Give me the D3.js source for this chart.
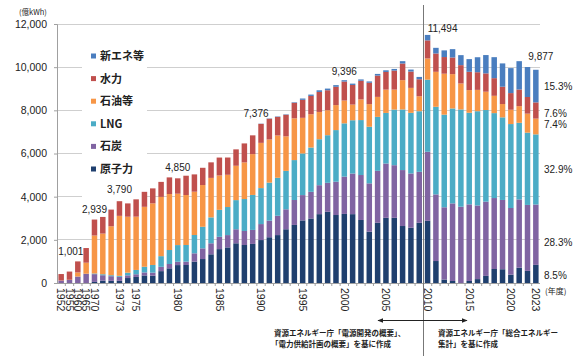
<!DOCTYPE html>
<html><head><meta charset="utf-8">
<script src="https://cdn.jsdelivr.net/npm/d3@7"></script>
<style>
body{margin:0;background:#fff;}
svg{display:block;}
text{font-family:"Liberation Sans",Arial,"Noto Sans CJK JP",sans-serif;fill:#222;}
.jp{font-family:"Noto Sans CJK JP","Liberation Sans",sans-serif;}
</style>
</head><body>
<svg id="c" width="574" height="360"></svg>
<script>
// ---- data (億kWh) ----
const years = [1952,1955,1960,1965,
  1970,1971,1972,1973,1974,1975,1976,1977,1978,1979,
  1980,1981,1982,1983,1984,1985,1986,1987,1988,1989,
  1990,1991,1992,1993,1994,1995,1996,1997,1998,1999,
  2000,2001,2002,2003,2004,2005,2006,2007,2008,2009,
  2010,2011,2012,2013,2014,2015,2016,2017,2018,2019,
  2020,2021,2022,2023];
const nuclear = [0,0,0,0,
  50,110,100,100,230,280,350,340,550,680,
  830,834,990,1110,1330,1570,1650,1840,1760,1810,
  1990,2120,2220,2490,2690,2900,2990,3190,3300,3150,
  3200,3190,2920,2380,2790,3020,3020,2640,2560,2790,
  2882,1018,159,93,0,94,181,329,649,638,
  388,708,561,840];
const coal = [110,140,300,430,
  360,250,215,185,125,125,140,140,200,200,
  155,155,385,495,510,570,570,650,650,650,
  740,770,895,925,1155,1173,1234,1342,1342,1543,
  1728,1882,2083,2237,2407,2515,2438,2592,2515,2361,
  3199,3087,3349,3596,3534,3550,3411,3441,3287,3210,
  3087,3164,3056,2796];
const lng = [0,0,0,0,
  30,46,46,46,123,200,262,355,494,648,
  772,772,849,1000,1200,1250,1300,1350,1480,1620,
  1667,1760,1760,1780,1850,1929,2052,2129,2206,2392,
  2469,2469,2546,2623,2500,2345,2577,2808,2808,2808,
  3339,4059,4291,4398,4507,4244,4368,4244,3935,3827,
  3889,3550,3349,3250];
const oil = [5,10,190,510,
  1760,1883,2268,2780,2593,2469,2778,2855,2747,2593,
  2380,2315,2006,1933,1830,1592,1494,1592,1697,1891,
  2096,2000,1961,1599,1934,1651,1543,1265,1157,1157,
  1057,725,957,1049,926,1080,926,1358,1157,694,
  983,1621,1898,1590,1204,1049,988,849,802,617,
  663,772,880,731];
const hydro = [300,380,511,680,
  740,772,772,679,617,802,694,694,694,772,
  713,895,802,800,720,830,800,760,880,870,
  880,960,860,1000,720,833,849,926,926,849,
  880,910,864,987,987,818,880,772,756,787,
  838,849,772,772,849,849,818,849,818,802,
  772,772,772,751];
const newEnergy = [0,0,0,0,
  0,0,0,0,0,0,0,0,0,0,
  0,0,0,0,0,0,0,0,0,0,
  10,15,20,20,25,62,62,77,77,77,
  62,62,62,62,77,77,77,108,93,108,
  253,262,309,386,463,587,694,849,972,1080,
  1157,1312,1389,1511];

const seriesNames = ["原子力","石炭","LNG","石油等","水力","新エネ等"];
const seriesColors = ["#1F3F6E","#8064A2","#4BACC6","#F79646","#C0504D","#4A7EBF"];
const yTicks = [0,2000,4000,6000,8000,10000,12000];
const xTickLabels = [1952,1955,1960,1965,1970,1973,1975,1980,1985,1990,1995,2000,2005,2010,2015,2020,2023];
const totalLabelYears = [1960,1970,1973,1980,1990,2000,2010,2023];
const totalLabelTexts = ["1,001","2,939","3,790","4,850","7,376","9,396","11,494","9,877"];
const shareLabels2023 = ["8.5%","28.3%","32.9%","7.4%","7.6%","15.3%"];

// ---- layout ----
const svg = d3.select("#c");
const L = 57, R = 540, T = 24, B = 283;
const x = d3.scaleBand().domain(years.map(String)).range([L,R]).paddingInner(0.34).paddingOuter(0.17);
const y = d3.scaleLinear().domain([0,12000]).range([B,T]);

const table = years.map((yr,i)=>({year:String(yr),
  "原子力":nuclear[i],"石炭":coal[i],"LNG":lng[i],"石油等":oil[i],"水力":hydro[i],"新エネ等":newEnergy[i]}));
const stacked = d3.stack().keys(seriesNames)(table);

// gridlines
svg.append("g").selectAll("line").data(yTicks.filter(d=>d>0)).join("line")
  .attr("x1",L).attr("x2",R).attr("y1",d=>y(d)).attr("y2",d=>y(d))
  .attr("stroke","#cfcfcf").attr("stroke-width",1).attr("shape-rendering","crispEdges");

// y axis labels
const yAxis = d3.axisLeft(y).tickValues(yTicks).tickFormat(d3.format(",")).tickSize(3).tickPadding(7);
const ya = svg.append("g").attr("transform",`translate(${L},0)`).call(yAxis);
ya.select(".domain").attr("stroke","#a0a0a0");
ya.selectAll(".tick line").attr("stroke","#a0a0a0");
ya.selectAll("text").attr("font-size",10.5).attr("fill","#222")
  .attr("font-family","'Liberation Sans',Arial,sans-serif");
svg.append("text").attr("class","jp").attr("x",19).attr("y",15).attr("font-size",7.5).text("(億kWh)");

// legend background
svg.append("rect").attr("x",82).attr("y",36).attr("width",65).attr("height",162).attr("fill","#fff");

// bars
const gBars = svg.append("g");
stacked.forEach((s,k)=>{
  gBars.append("g").attr("fill",seriesColors[k]).selectAll("rect").data(s).join("rect")
    .attr("x",d=>x(d.data.year)).attr("width",x.bandwidth())
    .attr("y",d=>y(d[1])).attr("height",d=>Math.max(0,y(d[0])-y(d[1])));
});

// x axis
const xa = svg.append("g").attr("transform",`translate(0,${B})`);
xa.append("line").attr("x1",L).attr("x2",R).attr("stroke","#a0a0a0").attr("shape-rendering","crispEdges");
const step = x.step();
xa.selectAll("line.tk").data(years.slice(1)).join("line").attr("class","tk")
  .attr("x1",d=>x(String(d))-(step-x.bandwidth())/2).attr("x2",d=>x(String(d))-(step-x.bandwidth())/2)
  .attr("y1",0).attr("y2",3).attr("stroke","#a0a0a0");
xa.selectAll("text").data(xTickLabels).join("text")
  .attr("transform",d=>`translate(${x(String(d))+x.bandwidth()/2},5) rotate(90)`)
  .attr("dy","0.35em").attr("font-size",10.5).attr("text-anchor","start").text(d=>d);
svg.append("text").attr("class","jp").attr("x",545).attr("y",294).attr("font-size",8).text("(年度)");

// separator
const sepX = Math.round(x("2010")-(step-x.bandwidth())/2)+0.5;
svg.append("line").attr("x1",sepX).attr("x2",sepX).attr("y1",5).attr("y2",356).attr("stroke","#777");

// total labels
const labelDx = [-7,0,0,0,-5,0,15,5];
const labelDy = [-6,-7,-8,-7,-7,-5,-3,-10];
svg.append("g").selectAll("text").data(totalLabelYears).join("text")
  .attr("x",(d,i)=>x(String(d))+x.bandwidth()/2+labelDx[i])
  .attr("y",(d,i)=>{const j=years.indexOf(d);return y(stacked[5][j][1])+labelDy[i];})
  .attr("text-anchor","middle").attr("font-size",10).text((d,i)=>totalLabelTexts[i]);

// share labels for 2023
const last = years.length-1;
const shareDy = [2,8,0,-2,3,0];
svg.append("g").selectAll("text").data(shareLabels2023).join("text")
  .attr("x",544).attr("y",(d,k)=>y((stacked[k][last][0]+stacked[k][last][1])/2)+shareDy[k])
  .attr("dy","0.35em").attr("font-size",10).text(d=>d);

// legend
const legendOrder = [5,4,3,2,1,0];
const lg = svg.append("g").selectAll("g").data(legendOrder).join("g")
  .attr("transform",(d,i)=>`translate(91,${56+i*22.6})`);
lg.append("rect").attr("x",0).attr("y",-2.5).attr("width",5).attr("height",5).attr("fill",d=>seriesColors[d]);
lg.append("text").attr("class","jp").attr("x",9).attr("dy","0.36em").attr("font-size",11)
  .attr("font-weight","bold").attr("fill","#333").text(d=>seriesNames[d]);

// arrow + notes
const defs = svg.append("defs");
defs.append("marker").attr("id","ah").attr("viewBox","0 0 10 10").attr("refX",9).attr("refY",5)
  .attr("markerWidth",6).attr("markerHeight",6).attr("orient","auto-start-reverse")
  .append("path").attr("d","M0,1L10,5L0,9z").attr("fill","#222");
svg.append("line").attr("x1",378).attr("x2",467).attr("y1",320.5).attr("y2",320.5)
  .attr("stroke","#222").attr("marker-start","url(#ah)").attr("marker-end","url(#ah)");
const notes = [
  {x:274,y:336,t:"資源エネルギー庁「電源開発の概要」、"},
  {x:271,y:347,t:"「電力供給計画の概要」を基に作成"},
  {x:438,y:336,t:"資源エネルギー庁「総合エネルギー"},
  {x:438,y:347,t:"集計」を基に作成"}];
svg.append("g").selectAll("text").data(notes).join("text").attr("class","jp")
  .attr("x",d=>d.x).attr("y",d=>d.y).attr("font-size",7.5).attr("font-weight","bold").attr("fill","#333").text(d=>d.t);
</script>
</body></html>
